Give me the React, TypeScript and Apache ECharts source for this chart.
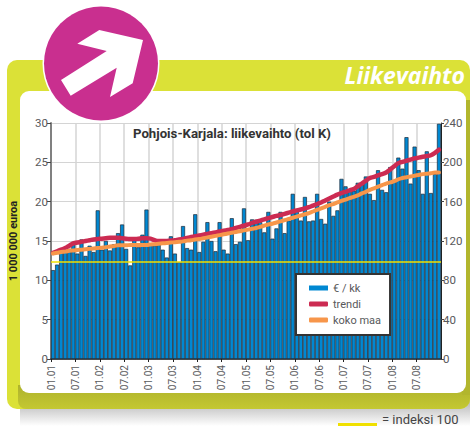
import React, { useEffect, useRef } from "react";
import * as echarts from "echarts";

const months = Array.from({ length: 96 }, (_, i) => `${i}`);
const tickLabels = ["01.01","07.01","01.02","07.02","01.03","07.03","01.04","07.04","01.05","07.05","01.06","07.06","01.07","07.07","01.08","07.08"];
const barValues = [11.3,12.0,13.6,13.7,14.0,14.9,13.4,15.2,13.1,14.4,13.6,18.9,13.9,15.0,13.8,14.6,16.0,17.1,14.0,11.9,15.3,14.2,15.8,19.0,14.5,14.4,14.6,13.9,12.9,15.6,13.4,12.3,16.9,14.1,13.9,18.4,13.6,14.9,17.4,15.0,13.7,17.4,13.9,13.4,17.9,14.6,14.9,19.15,15.1,17.75,17.7,17.4,16.1,18.7,15.3,16.6,18.7,16.0,17.6,21.0,18.9,17.6,20.6,17.5,17.6,21.0,17.8,17.2,20.0,18.2,18.9,22.9,21.95,21.5,21.4,22.4,22.4,23.2,21.0,20.2,24.0,21.5,21.2,24.4,22.5,25.6,24.2,28.2,22.3,27.0,24.0,21.0,26.4,21.1,23.5,29.9];
const trend = [13.5,13.7,13.9,14.1,14.4,14.7,14.8,14.9,15.0,15.1,15.2,15.25,15.3,15.35,15.4,15.4,15.4,15.35,15.3,15.25,15.25,15.3,15.35,15.35,15.3,15.1,15.0,15.0,15.0,15.05,15.1,15.2,15.25,15.4,15.5,15.6,15.7,15.8,15.9,16.0,16.1,16.2,16.3,16.4,16.5,16.65,16.8,16.95,17.1,17.3,17.45,17.6,17.75,17.9,18.05,18.2,18.3,18.45,18.6,18.75,18.9,19.0,19.15,19.3,19.5,19.7,19.9,20.15,20.4,20.65,20.9,21.1,21.25,21.45,21.6,21.95,22.3,22.65,23.0,23.15,23.35,23.5,23.7,24.1,24.5,24.9,25.05,25.2,25.35,25.5,25.6,25.7,25.8,25.9,26.2,26.6];
const wholeCountry = [13.4,13.5,13.6,13.65,13.75,13.8,13.85,13.9,13.95,14.0,14.05,14.1,14.15,14.2,14.3,14.35,14.45,14.45,14.45,14.5,14.5,14.5,14.5,14.5,14.55,14.6,14.65,14.7,14.75,14.8,14.85,14.9,14.95,15.05,15.1,15.2,15.25,15.35,15.45,15.55,15.65,15.75,15.85,15.95,16.05,16.15,16.25,16.35,16.45,16.55,16.65,16.8,16.95,17.1,17.2,17.35,17.5,17.65,17.8,17.95,18.1,18.25,18.4,18.55,18.75,18.95,19.15,19.35,19.55,19.7,19.9,20.1,20.25,20.45,20.6,20.8,21.05,21.25,21.5,21.7,21.9,22.1,22.3,22.45,22.6,22.85,23.0,23.1,23.2,23.3,23.4,23.5,23.55,23.6,23.7,23.7];
const indexLevel = 12.4;

const NARROW = 'Roboto, "Liberation Sans", sans-serif';
const GREY = "#58595b";

echarts.graphic.registerShape(
  "bigArrow",
  echarts.graphic.extendPath("M61 80 L106.7 51 L77.3 43.7 L99.3 30 L143 40 L132.7 83.3 L110 97 L116.7 67.7 L70.7 95.7 Z", {})
);

export default function App() {
  const ref = useRef<HTMLDivElement>(null);
  useEffect(() => {
    const chart = echarts.init(ref.current!, null, { renderer: "svg" });
    chart.setOption({
      animation: false,
      backgroundColor: "#ffffff",
      title: {
        text: "Pohjois-Karjala: liikevaihto (tol K)",
        left: 133,
        top: 127,
        padding: 0,
        textStyle: { fontFamily: NARROW, fontSize: 13.2, fontWeight: "bold", color: "#333333" },
      },
      legend: {
        left: 296,
        top: 274,
        orient: "vertical",
        data: [
          { name: "€ / kk", icon: "rect", itemStyle: { borderWidth: 0, color: "#0088d2" } },
          { name: "trendi", icon: "roundRect" },
          { name: "koko maa", icon: "roundRect" },
        ],
        padding: [8, 9, 9, 13],
        itemWidth: 19,
        itemHeight: 5,
        itemGap: 4,
        backgroundColor: "#ffffff",
        borderColor: "#333333",
        borderWidth: 2,
        textStyle: { fontFamily: NARROW, fontSize: 11, color: GREY, lineHeight: 12 },
      },
      grid: { left: 50, right: 29, top: 123, bottom: 67, containLabel: false },
      xAxis: [
        {
          type: "category",
          data: months,
          axisLabel: { show: false },
          axisTick: { show: false },
          axisLine: { show: true, lineStyle: { color: "#222222", width: 1.5 } },
        },
        {
          type: "value",
          min: 0,
          max: 96,
          interval: 6,
          position: "bottom",
          axisLine: { show: false },
          axisTick: { show: true, length: 3, lineStyle: { color: "#222222" } },
          splitLine: { show: true, lineStyle: { color: "#d4d4d4", width: 1.5 } },
          axisLabel: {
            rotate: 90,
            margin: 6,
            fontFamily: NARROW,
            fontSize: 10,
            color: GREY,
            showMinLabel: true,
            showMaxLabel: false,
            formatter: (v: number) => tickLabels[v / 6] ?? "",
          },
        },
      ],
      yAxis: [
        {
          type: "value",
          min: 0,
          max: 30,
          interval: 5,
          name: "1 000 000 euroa",
          nameLocation: "middle",
          nameGap: 32,
          nameTextStyle: { fontFamily: NARROW, fontSize: 11, fontWeight: "bold", color: "#222222" },
          axisLine: { show: true, lineStyle: { color: "#808080", width: 2 } },
          axisTick: { show: true, length: 4, lineStyle: { color: "#444444" } },
          splitLine: { show: true, lineStyle: { color: "#d4d4d4", width: 1 } },
          axisLabel: { margin: 3, fontFamily: NARROW, fontSize: 11.5, color: GREY },
        },
        {
          type: "value",
          min: 0,
          max: 240,
          interval: 40,
          position: "right",
          axisLine: { show: true, lineStyle: { color: "#222222", width: 1 } },
          axisTick: { show: true, length: 3, lineStyle: { color: "#444444" } },
          splitLine: { show: false },
          axisLabel: { margin: 2, fontFamily: NARROW, fontSize: 11.5, color: GREY },
        },
      ],
      series: [
        {
          name: "€ / kk",
          type: "bar",
          data: barValues,
          barCategoryGap: "0%",
          itemStyle: { color: "#0088d2", borderColor: "#1c2a38", borderWidth: 0.7 },
          markLine: {
            silent: true,
            symbol: "none",
            label: { show: false },
            lineStyle: { color: "#f0e000", width: 1.5, type: "solid" },
            data: [{ yAxis: indexLevel }],
          },
        },
        {
          name: "koko maa",
          type: "line",
          data: wholeCountry,
          smooth: true,
          showSymbol: false,
          z: 4,
          itemStyle: { color: "#f7964a" },
          lineStyle: { color: "#f7964a", width: 4, cap: "round" },
        },
        {
          name: "trendi",
          type: "line",
          data: trend,
          smooth: true,
          showSymbol: false,
          z: 3,
          itemStyle: { color: "#cc2b52" },
          lineStyle: { color: "#cc2b52", width: 4.5, cap: "round" },
        },
      ],
      graphic: [
        {
          type: "rect",
          shape: { x: 20, y: 400, width: 450, height: 26 },
          z: -5,
          style: {
            fill: new echarts.graphic.LinearGradient(0, 0, 0, 1, [
              { offset: 0, color: "#b4b4b4" },
              { offset: 1, color: "#ffffff" },
            ]),
          },
        },
        { type: "rect", shape: { x: 7, y: 60, width: 463, height: 349, r: 10 }, z: -4, style: { fill: "#dbe137" } },
        {
          type: "rect",
          shape: { x: 18, y: 385, width: 452, height: 24, r: [0, 0, 10, 8] },
          z: -4,
          style: {
            fill: new echarts.graphic.LinearGradient(0, 0, 0, 1, [
              { offset: 0, color: "#aeb22c" },
              { offset: 1, color: "#c4c832" },
            ]),
          },
        },
        { type: "rect", shape: { x: 462, y: 100, width: 8, height: 295 }, z: -4, style: { fill: "#b2b62d" } },
        { type: "rect", shape: { x: 20, y: 91, width: 446, height: 302, r: 9 }, z: -3, style: { fill: "#ffffff" } },
        { type: "circle", shape: { cx: 101, cy: 63.5, r: 58.5 }, z: -2, style: { fill: "#ffffff" } },
        { type: "circle", shape: { cx: 101, cy: 63.5, r: 57 }, z: -2, style: { fill: "#c92f8f" } },
        { type: "bigArrow", z: -1, style: { fill: "#ffffff" } },
        {
          type: "text",
          x: 465,
          y: 75,
          z: 1,
          style: {
            text: "Liikevaihto",
            align: "right",
            verticalAlign: "middle",
            fill: "#ffffff",
            font: 'italic bold 23px "Open Sans", sans-serif',
          },
        },
        { type: "rect", shape: { x: 338, y: 423, width: 39, height: 3 }, z: 1, style: { fill: "#f0e000" } },
        {
          type: "text",
          x: 382,
          y: 419,
          z: 1,
          style: {
            text: "= indeksi 100",
            align: "left",
            verticalAlign: "middle",
            fill: "#444444",
            font: `13px ${NARROW}`,
          },
        },
      ],
    });
    return () => chart.dispose();
  }, []);
  return <div ref={ref} style={{ position: "absolute", left: 0, top: 0, width: 470, height: 426 }} />;
}
